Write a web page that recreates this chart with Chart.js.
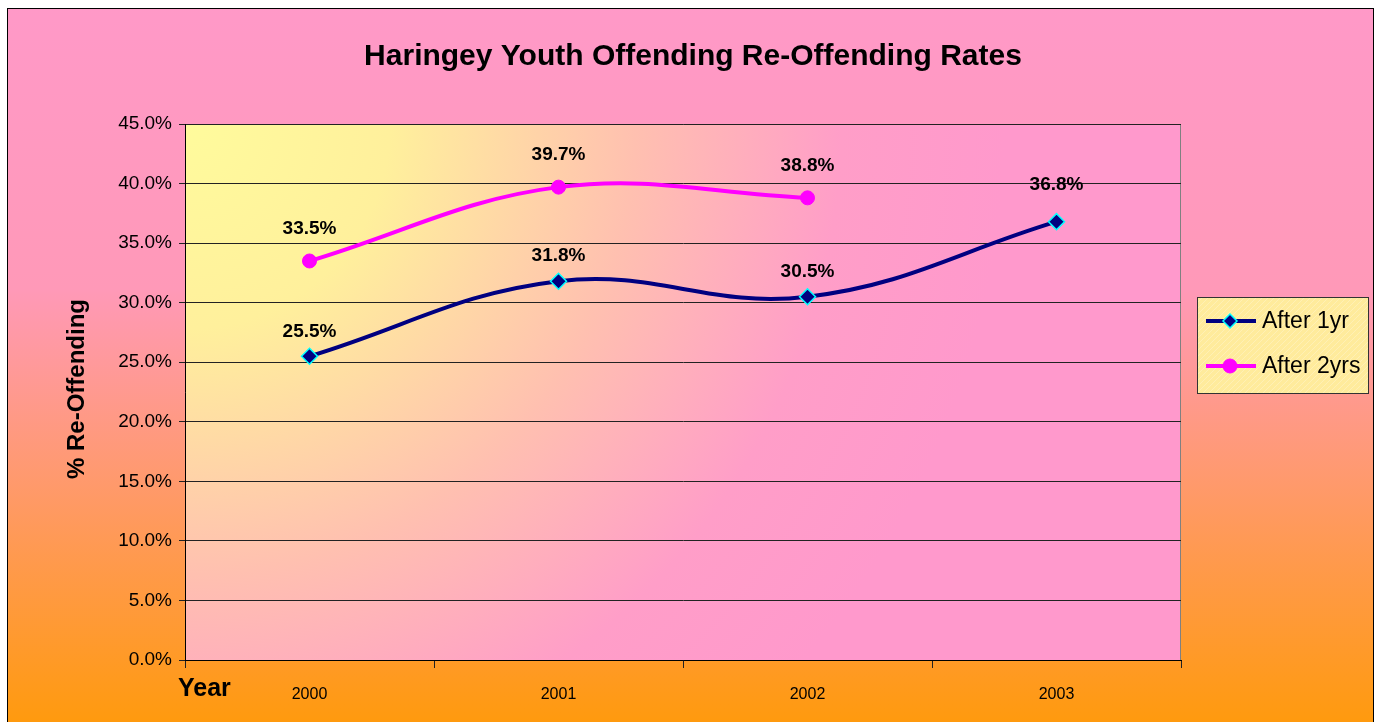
<!DOCTYPE html>
<html>
<head>
<meta charset="utf-8">
<script src="https://cdn.jsdelivr.net/npm/chart.js@4.4.1/dist/chart.umd.min.js"></script>
<style>
  html, body { margin: 0; padding: 0; background: #fff; }
  #wrap { width: 1380px; height: 722px; }
</style>
</head>
<body>
<div id="wrap"><canvas id="reChart" width="1380" height="722"></canvas></div>
<script>
// data
const years = ["2000", "2001", "2002", "2003"];
const after1yr = [25.5, 31.8, 30.5, 36.8];
const after2yrs = [33.5, 39.7, 38.8, null];
const yMax = 45;
const yStep = 5;

const FONT = "'Liberation Sans', Arial, sans-serif";
const TITLE = "Haringey Youth Offending Re-Offending Rates";

// backgrounds: outer panel and plot area
const backdrop = {
  id: "backdrop",
  beforeDraw(chart) {
    const ctx = chart.ctx;
    const a = chart.chartArea;
    ctx.save();
    ctx.fillStyle = "#fff";
    ctx.fillRect(0, 0, chart.width, chart.height);

    const g = ctx.createLinearGradient(0, 0, 0, chart.height);
    g.addColorStop(0, "#ff99c8");
    g.addColorStop(0.4, "#ff99b8");
    g.addColorStop(1, "#ff9a0e");
    ctx.fillStyle = g;
    ctx.fillRect(8, 8, 1366, chart.height);
    ctx.strokeStyle = "#000";
    ctx.lineWidth = 1;
    ctx.strokeRect(7.5, 8.5, 1366, chart.height + 5);

    const pg = ctx.createRadialGradient(a.left, a.top, 0, a.left, a.top, 820);
    pg.addColorStop(0, "#fffb9c");
    pg.addColorStop(0.25, "#fff09c");
    pg.addColorStop(0.55, "#ffc0b0");
    pg.addColorStop(0.8, "#ff9ec8");
    pg.addColorStop(1, "#ff99cc");
    ctx.fillStyle = pg;
    ctx.fillRect(a.left, a.top, a.right - a.left, a.bottom - a.top);
    ctx.strokeStyle = "#808080";
    ctx.strokeRect(a.left + 0.5, a.top + 0.5, a.right - a.left - 1, a.bottom - a.top);
    ctx.restore();
  }
};

// value labels above each point
const valueLabels = {
  id: "valueLabels",
  afterDatasetsDraw(chart) {
    const ctx = chart.ctx;
    ctx.save();
    ctx.font = "bold 19px " + FONT;
    ctx.fillStyle = "#000";
    ctx.textAlign = "center";
    ctx.textBaseline = "middle";
    chart.data.datasets.forEach((ds, i) => {
      const meta = chart.getDatasetMeta(i);
      meta.data.forEach((pt, j) => {
        const v = ds.data[j];
        if (v == null) return;
        const off = ds.labelOffset + (j === 3 ? 12 : 0);
        ctx.fillText(v.toFixed(1) + "%", pt.x, pt.y - off);
      });
    });
    ctx.restore();
  }
};

// title, axis titles and legend box
const extras = {
  id: "extras",
  afterDraw(chart) {
    const ctx = chart.ctx;
    ctx.save();
    ctx.fillStyle = "#000";
    ctx.font = "bold 30px " + FONT;
    ctx.textAlign = "center";
    ctx.textBaseline = "middle";
    ctx.fillText(TITLE, 693, 57);
    ctx.restore();

    ctx.save();
    ctx.fillStyle = "#000";
    ctx.font = "bold 24px " + FONT;
    ctx.textAlign = "center";
    ctx.textBaseline = "middle";
    ctx.translate(77, 389);
    ctx.rotate(-Math.PI / 2);
    ctx.fillText("% Re-Offending", 0, 0);
    ctx.restore();

    ctx.save();
    ctx.font = "bold 25px " + FONT;
    ctx.textBaseline = "middle";
    ctx.fillText("Year", 178, 689);
    ctx.restore();

    // legend
    const lx = 1197, ly = 297, lw = 171, lh = 96;
    ctx.save();
    ctx.fillStyle = "#ffeb9c";
    ctx.fillRect(lx, ly, lw, lh);
    ctx.beginPath();
    ctx.rect(lx, ly, lw, lh);
    ctx.clip();
    ctx.strokeStyle = "rgba(255,255,255,0.25)";
    ctx.lineWidth = 1;
    for (let d = -lh; d < lw; d += 6) {
      ctx.beginPath();
      ctx.moveTo(lx + d, ly + lh);
      ctx.lineTo(lx + d + lh, ly);
      ctx.stroke();
    }
    ctx.restore();
    ctx.save();
    ctx.strokeStyle = "#333";
    ctx.lineWidth = 1;
    ctx.strokeRect(lx + 0.5, ly + 0.5, lw, lh);
    chart.data.datasets.forEach((ds, i) => {
      const y = 321 + i * 45;
      ctx.strokeStyle = ds.borderColor;
      ctx.lineWidth = 4;
      ctx.beginPath();
      ctx.moveTo(1206, y);
      ctx.lineTo(1256, y);
      ctx.stroke();
      ctx.fillStyle = ds.pointBackgroundColor;
      ctx.strokeStyle = ds.pointBorderColor;
      ctx.lineWidth = ds.pointBorderWidth;
      ctx.beginPath();
      if (ds.pointStyle === "rectRot") {
        ctx.moveTo(1230, y - 7);
        ctx.lineTo(1237, y);
        ctx.lineTo(1230, y + 7);
        ctx.lineTo(1223, y);
        ctx.closePath();
      } else {
        ctx.arc(1230, y, 7, 0, Math.PI * 2);
      }
      ctx.fill();
      ctx.stroke();
      ctx.fillStyle = "#000";
      ctx.font = "23px " + FONT;
      ctx.textBaseline = "middle";
      ctx.fillText(ds.label, 1262, y + 1);
    });
    ctx.restore();
  }
};

new Chart(document.getElementById("reChart"), {
  type: "line",
  data: {
    labels: years,
    datasets: [
      {
        label: "After 1yr",
        data: after1yr,
        borderColor: "#000080",
        borderWidth: 4,
        tension: 0.4,
        pointStyle: "rectRot",
        pointRadius: 8,
        pointBackgroundColor: "#000080",
        pointBorderColor: "#00ffff",
        pointBorderWidth: 1.5,
        labelOffset: 25
      },
      {
        label: "After 2yrs",
        data: after2yrs,
        borderColor: "#ff00ff",
        borderWidth: 4,
        tension: 0.38,
        pointStyle: "circle",
        pointRadius: 7,
        pointBackgroundColor: "#ff00ff",
        pointBorderColor: "#ff00ff",
        pointBorderWidth: 1,
        labelOffset: 32
      }
    ]
  },
  options: {
    responsive: false,
    animation: false,
    layout: { padding: { left: 0, right: 199, top: 124, bottom: 0 } },
    plugins: {
      legend: { display: false },
      tooltip: { enabled: false },
      title: { display: false }
    },
    scales: {
      x: {
        offset: true,
        grid: { offset: true, drawOnChartArea: false, drawTicks: true, tickLength: 8, color: "#222" },
        border: { display: true, color: "#000", width: 1 },
        ticks: { color: "#000", font: { family: FONT, size: 16 }, padding: 17, maxRotation: 0 },
        afterFit(scale) { scale.height = 62; }
      },
      y: {
        min: 0,
        max: yMax,
        grid: { color: "#222", lineWidth: 1, tickLength: 6 },
        border: { display: true, color: "#000", width: 1 },
        ticks: {
          stepSize: yStep,
          color: "#000",
          padding: 7,
          font: { family: FONT, size: 19 },
          callback: (v) => v.toFixed(1) + "%"
        },
        afterFit(scale) { scale.width = 185; }
      }
    }
  },
  plugins: [backdrop, valueLabels, extras]
});
</script>
</body>
</html>
